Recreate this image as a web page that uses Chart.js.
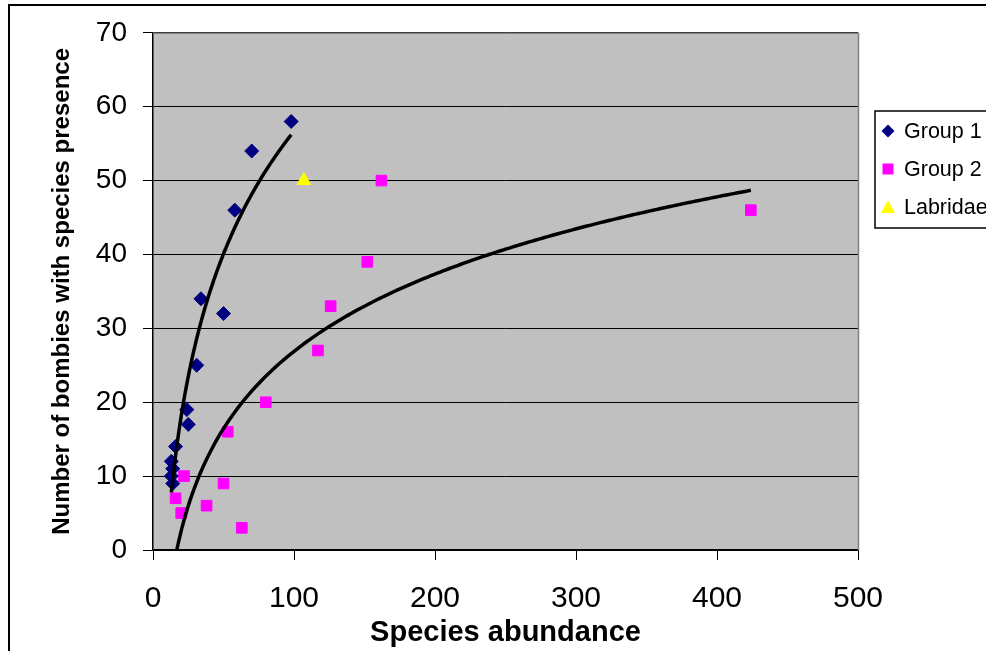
<!DOCTYPE html>
<html>
<head>
<meta charset="utf-8">
<script src="https://cdn.jsdelivr.net/npm/chart.js@4/dist/chart.umd.min.js"></script>
<style>
  html, body { margin: 0; padding: 0; background: #ffffff; }
  #wrap { width: 986px; height: 651px; position: relative; overflow: hidden; }
  canvas { display: block; }
</style>
</head>
<body>
<div id="wrap"><canvas id="chart" width="986" height="651"></canvas></div>
<script>
// Survey data: abundance of each species vs. number of bombies where it was present
const group1Abundance = [13, 14, 13, 14, 16, 24, 25, 31, 34, 50, 58, 70, 98];
const group1Bombies   = [12, 11, 10,  9, 14, 19, 17, 25, 34, 32, 46, 54, 58];

const group2Abundance = [16, 20, 22, 38, 50, 53, 63, 80, 117, 126, 152, 162, 424];
const group2Bombies   = [ 7,  5, 10,  6,  9, 16,  3, 20,  27,  33,  39,  50,  46];

const labridaeAbundance = [107];
const labridaeBombies   = [50];

const xTickValues = [0, 100, 200, 300, 400, 500];
const yTickValues = [0, 10, 20, 30, 40, 50, 60, 70];

const seriesNames = ['Group 1', 'Group 2', 'Labridae'];

// Build {x, y} pairs for the scatter datasets
function pairs(xs, ys) {
  return xs.map((x, i) => ({ x: x, y: ys[i] }));
}

// Least-squares logarithmic trend: y = a * ln(x) + b
function logFit(xs, ys) {
  const n = xs.length;
  const lx = xs.map(Math.log);
  const mx = lx.reduce((s, v) => s + v, 0) / n;
  const my = ys.reduce((s, v) => s + v, 0) / n;
  let sxy = 0, sxx = 0;
  for (let i = 0; i < n; i++) {
    sxy += (lx[i] - mx) * (ys[i] - my);
    sxx += (lx[i] - mx) * (lx[i] - mx);
  }
  const a = sxy / sxx;
  return { a: a, b: my - a * mx };
}

// Sample the fitted curve across the range of the group's abundances
function trendCurve(xs, ys, steps) {
  const fit = logFit(xs, ys);
  const lo = Math.min.apply(null, xs);
  const hi = Math.max.apply(null, xs);
  const pts = [];
  for (let i = 0; i <= steps; i++) {
    const x = lo + (hi - lo) * i / steps;
    pts.push({ x: x, y: fit.a * Math.log(x) + fit.b });
  }
  return pts;
}

const NAVY = '#000080';
const MAGENTA = '#FF00FF';
const YELLOW = '#FFFF00';
const PLOT_BG = '#C0C0C0';

// Grey plot background, plot frame on top/right and the outer chart frame
const framePlugin = {
  id: 'frame',
  beforeDraw(chart) {
    const { ctx, chartArea: a } = chart;
    ctx.save();
    ctx.fillStyle = PLOT_BG;
    ctx.fillRect(a.left, a.top, a.right - a.left, a.bottom - a.top);
    ctx.restore();
  },
  beforeDatasetsDraw(chart) {
    const { ctx, chartArea: a } = chart;
    ctx.save();
    ctx.strokeStyle = '#808080';
    ctx.lineWidth = 1.5;
    ctx.beginPath();
    ctx.moveTo(a.left, a.top + 0.5);
    ctx.lineTo(a.right + 0.5, a.top + 0.5);
    ctx.lineTo(a.right + 0.5, a.bottom);
    ctx.stroke();
    ctx.restore();
  },
  afterDraw(chart) {
    const ctx = chart.ctx;
    ctx.save();
    ctx.strokeStyle = '#000000';
    ctx.lineWidth = 2;
    ctx.beginPath();
    ctx.moveTo(9, chart.height + 5);
    ctx.lineTo(9, 5);
    ctx.lineTo(chart.width + 5, 5);
    ctx.stroke();
    ctx.restore();
  }
};

// Boxed legend for the three marker series (box runs past the right edge)
const legendBoxPlugin = {
  id: 'legendBox',
  afterDraw(chart) {
    const ctx = chart.ctx;
    const boxLeft = 875, boxTop = 111, boxBottom = 228;
    ctx.save();
    ctx.fillStyle = '#ffffff';
    ctx.fillRect(boxLeft, boxTop, 200, boxBottom - boxTop);
    ctx.strokeStyle = '#000000';
    ctx.lineWidth = 1.5;
    ctx.strokeRect(boxLeft, boxTop, 200, boxBottom - boxTop);

    const rows = [131, 169, 207];
    const markerX = 888;
    ctx.font = '21.5px "Liberation Sans", Arial, sans-serif';
    ctx.textBaseline = 'middle';
    ctx.textAlign = 'left';
    seriesNames.forEach((name, i) => {
      const y = rows[i];
      ctx.beginPath();
      if (i === 0) {
        ctx.fillStyle = NAVY;
        ctx.moveTo(markerX, y - 6.5);
        ctx.lineTo(markerX + 6.5, y);
        ctx.lineTo(markerX, y + 6.5);
        ctx.lineTo(markerX - 6.5, y);
      } else if (i === 1) {
        ctx.fillStyle = MAGENTA;
        ctx.rect(markerX - 5.5, y - 5.5, 11, 11);
      } else {
        ctx.fillStyle = YELLOW;
        ctx.moveTo(markerX, y - 7);
        ctx.lineTo(markerX + 7, y + 6);
        ctx.lineTo(markerX - 7, y + 6);
      }
      ctx.closePath();
      ctx.fill();
      ctx.fillStyle = '#000000';
      ctx.fillText(name, 904, y + 1);
    });
    ctx.restore();
  }
};

const trendStyle = {
  showLine: true,
  borderColor: '#000000',
  borderWidth: 3.5,
  pointRadius: 0,
  tension: 0,
  fill: false
};

new Chart(document.getElementById('chart'), {
  type: 'scatter',
  data: {
    datasets: [
      Object.assign({ label: 'Group 1 trend', data: trendCurve(group1Abundance, group1Bombies, 120) }, trendStyle),
      Object.assign({ label: 'Group 2 trend', data: trendCurve(group2Abundance, group2Bombies, 200) }, trendStyle),
      {
        label: seriesNames[0],
        data: pairs(group1Abundance, group1Bombies),
        pointStyle: 'rectRot',
        pointRadius: 7,
        backgroundColor: NAVY,
        borderColor: NAVY,
        borderWidth: 1
      },
      {
        label: seriesNames[1],
        data: pairs(group2Abundance, group2Bombies),
        pointStyle: 'rect',
        pointRadius: 7.5,
        backgroundColor: MAGENTA,
        borderColor: MAGENTA,
        borderWidth: 1
      },
      {
        label: seriesNames[2],
        data: pairs(labridaeAbundance, labridaeBombies),
        pointStyle: 'triangle',
        pointRadius: 8,
        backgroundColor: YELLOW,
        borderColor: YELLOW,
        borderWidth: 1
      }
    ]
  },
  options: {
    responsive: false,
    animation: false,
    devicePixelRatio: 1,
    layout: { padding: { left: 0, top: 31, right: 128, bottom: 0 } },
    plugins: {
      legend: { display: false },
      tooltip: { enabled: false }
    },
    scales: {
      x: {
        type: 'linear',
        min: 0,
        max: 500,
        afterBuildTicks(scale) { scale.ticks = xTickValues.map(v => ({ value: v })); },
        afterFit(scale) { scale.height = 101; },
        grid: { drawOnChartArea: false, drawTicks: true, tickLength: 10, color: '#000000', lineWidth: 1 },
        border: { display: true, color: '#000000', width: 1.5 },
        ticks: {
          color: '#000000',
          padding: 21,
          font: { family: '"Liberation Sans", Arial, sans-serif', size: 30 }
        },
        title: {
          display: true,
          text: 'Species abundance',
          color: '#000000',
          font: { family: '"Liberation Sans", Arial, sans-serif', size: 29, weight: 'bold' },
          padding: { top: 0, bottom: 1 }
        }
      },
      y: {
        type: 'linear',
        min: 0,
        max: 70,
        afterBuildTicks(scale) { scale.ticks = yTickValues.map(v => ({ value: v })); },
        afterFit(scale) { scale.width = 153; },
        grid: { drawOnChartArea: true, drawTicks: true, tickLength: 10, color: '#000000', lineWidth: 1 },
        border: { display: true, color: '#000000', width: 1.5 },
        ticks: {
          color: '#000000',
          padding: 16,
          font: { family: '"Liberation Sans", Arial, sans-serif', size: 28 }
        },
        title: {
          display: true,
          text: 'Number of bombies with species presence',
          color: '#000000',
          font: { family: '"Liberation Sans", Arial, sans-serif', size: 24, weight: 'bold' },
          padding: { top: 48, bottom: 0 }
        }
      }
    }
  },
  plugins: [framePlugin, legendBoxPlugin]
});
</script>
</body>
</html>
